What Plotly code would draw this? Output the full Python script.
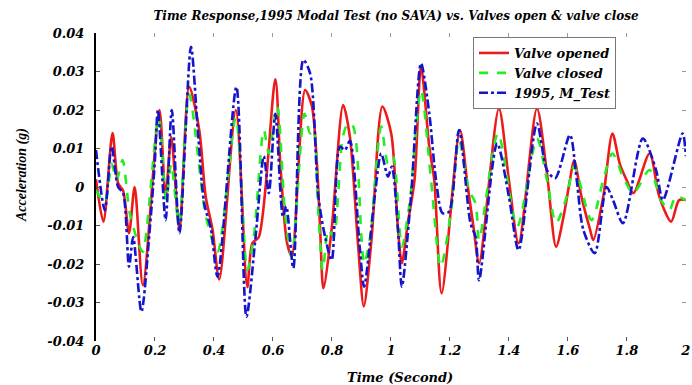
import plotly.graph_objects as go

# ---- data ----
t_open = [0.000, 0.025, 0.056, 0.075, 0.092, 0.112, 0.131, 0.159, 0.215, 0.236, 0.255, 0.283, 0.316, 0.350, 0.372, 0.395,
          0.418, 0.474, 0.513, 0.530, 0.552, 0.608, 0.625, 0.648, 0.664, 0.709, 0.732, 0.749, 0.760, 0.771, 0.799, 0.838,
          0.861, 0.889, 0.908, 0.934, 0.971, 1.001, 1.024, 1.037, 1.057, 1.080, 1.102, 1.130, 1.147, 1.172, 1.234, 1.259,
          1.281, 1.299, 1.366, 1.400, 1.433, 1.495, 1.529, 1.560, 1.585, 1.607, 1.621, 1.646, 1.675, 1.686, 1.720, 1.751,
          1.776, 1.799, 1.822, 1.877, 1.910, 1.950, 1.977, 2.000]
v_open = [0.002, -0.009, 0.014, 0.001, -0.001, -0.012, 0.000, -0.0255, 0.020, -0.0025, 0.013, -0.011, 0.026, 0.0148, -0.0025, -0.011,
          -0.024, 0.020, -0.026, -0.0146, -0.013, 0.028, 0.006, -0.0146, -0.018, 0.0252, 0.021, 0.0062, -0.011, -0.0263, -0.011, 0.0213,
          0.013, -0.0155, -0.031, -0.0138, 0.0209, 0.0139, -0.011, -0.0198, -0.0095, 0.0018, 0.0313, 0.0105, 0.0018, -0.0276, 0.0148, 0.001,
          -0.011, -0.0198, 0.0204, 0.0018, -0.0146, 0.0204, 0.0036, -0.0155, -0.0078, 0.0018, 0.007, -0.0025, -0.011, -0.0138, -0.0025, 0.0139,
          0.006, 0.0018, -0.0016, 0.0087, -0.0025, -0.009, -0.0034, -0.0034]

t_closed = [0.000, 0.030, 0.053, 0.070, 0.090, 0.115, 0.148, 0.159, 0.212, 0.238, 0.255, 0.281, 0.316, 0.373, 0.412, 0.474,
            0.513, 0.535, 0.569, 0.586, 0.614, 0.642, 0.664, 0.707, 0.726, 0.737, 0.754, 0.769, 0.788, 0.805, 0.837, 0.855,
            0.872, 0.900, 0.909, 0.928, 0.967, 0.990, 1.007, 1.037, 1.063, 1.102, 1.136, 1.169, 1.203, 1.231, 1.265, 1.287,
            1.299, 1.363, 1.428, 1.495, 1.529, 1.560, 1.596, 1.621, 1.680, 1.720, 1.751, 1.787, 1.822, 1.877, 1.916, 1.944,
            1.966, 2.000]
v_closed = [-0.0008, -0.004, 0.006, 0.0018, 0.007, -0.007, -0.0155, -0.0168, 0.018, -0.0034, 0.006, -0.0094, 0.024, -0.0077, -0.0168, 0.018,
            -0.0216, -0.013, 0.0148, 0.0087, 0.021, -0.0077, -0.018, 0.019, 0.0139, 0.0148, -0.0068, -0.0216, -0.011, -0.0129, 0.0131, 0.0165,
            0.0157, -0.0129, -0.0199, -0.0138, 0.0157, 0.0061, 0.0079, -0.0155, -0.0043, 0.0252, 0.0018, -0.0207, -0.0068, 0.0122, -0.0008, -0.0043,
            -0.0138, 0.0139, -0.0103, 0.0126, 0.0018, -0.0094, -0.0025, 0.0053, -0.0086, 0.0018, 0.0087, 0.0027, -0.0016, 0.0044, -0.0034, -0.006,
            -0.0025, -0.0034]

t_test = [0.000, 0.030, 0.053, 0.075, 0.092, 0.112, 0.126, 0.154, 0.182, 0.199, 0.210, 0.236, 0.257, 0.283, 0.322, 0.345,
          0.367, 0.390, 0.412, 0.476, 0.510, 0.541, 0.569, 0.586, 0.608, 0.634, 0.645, 0.669, 0.703, 0.726, 0.754, 0.777,
          0.799, 0.827, 0.844, 0.861, 0.894, 0.909, 0.945, 0.967, 0.990, 1.003, 1.024, 1.037, 1.068, 1.102, 1.130, 1.153,
          1.175, 1.197, 1.231, 1.270, 1.287, 1.299, 1.360, 1.400, 1.433, 1.495, 1.529, 1.557, 1.607, 1.630, 1.652, 1.691,
          1.731, 1.753, 1.787, 1.854, 1.899, 1.922, 1.989, 2.000]
v_test = [0.0096, -0.006, 0.0105, 0.000, -0.0016, -0.0207, -0.013, -0.0324, -0.0112, 0.006, 0.020, -0.0086, 0.020, -0.012, 0.0364, 0.015,
          -0.0043, -0.011, -0.0233, 0.026, -0.0337, -0.013, 0.008, -0.0016, 0.019, -0.0077, -0.005, -0.0211, 0.033, 0.0295, -0.0025, -0.013,
          -0.019, 0.0105, 0.0096, 0.012, -0.0155, -0.0259, -0.0025, 0.0087, 0.0027, 0.0053, -0.011, -0.0259, -0.0025, 0.0321, 0.0191, 0.0018,
          -0.0068, -0.0064, 0.0148, -0.0095, -0.0129, -0.0242, 0.0113, -0.0025, -0.0164, 0.0165, 0.0044, 0.0023, 0.0135, 0.0018, -0.011, -0.0172,
          0.000, -0.0034, -0.0094, 0.0126, 0.0044, -0.0034, 0.0139, 0.008]

x_ticks = [0, 0.2, 0.4, 0.6, 0.8, 1.0, 1.2, 1.4, 1.6, 1.8, 2.0]
x_tick_text = ["0", "0.2", "0.4", "0.6", "0.8", "1", "1.2", "1.4", "1.6", "1.8", "2"]
y_ticks = [-0.04, -0.03, -0.02, -0.01, 0, 0.01, 0.02, 0.03, 0.04]
y_tick_text = ["-0.04", "-0.03", "-0.02", "-0.01", "0", "0.01", "0.02", "0.03", "0.04"]

W, H = 692, 385
ML, MR, MT, MB = 96, 6, 33, 44
PW, PH = W - ML - MR, H - MT - MB

SERIF = "DejaVu Serif"
bi = dict(family=SERIF, weight="bold", style="italic", color="black")

fig = go.Figure()
fig.add_trace(go.Scatter(x=t_open, y=v_open, mode="lines", name="Valve opened",
                         line=dict(color="#ee1a1a", width=2.6, shape="spline", smoothing=0.8)))
fig.add_trace(go.Scatter(x=t_closed, y=v_closed, mode="lines", name="Valve closed",
                         line=dict(color="#22ee22", width=2.6, dash="dash", shape="spline", smoothing=0.8)))
fig.add_trace(go.Scatter(x=t_test, y=v_test, mode="lines", name="1995, M_Test",
                         line=dict(color="#1414cc", width=2.6, dash="dashdot", shape="spline", smoothing=0.8)))

# invisible trace on mirrored axes for the top/right tick marks
fig.add_trace(go.Scatter(x=[0, 2], y=[0, 0], xaxis="x2", yaxis="y2", mode="lines",
                         line=dict(width=0), showlegend=False, hoverinfo="skip"))

XR = [0, 2.0005]

fig.update_layout(
    width=W, height=H,
    margin=dict(l=ML, r=MR, t=MT, b=MB, autoexpand=False),
    paper_bgcolor="white", plot_bgcolor="white",
    showlegend=True,
    title=dict(text="Time Response,1995 Modal Test (no SAVA) vs. Valves open & valve close",
               x=(ML + PW / 2 + 5) / W, xanchor="center", y=1 - 16 / H, yanchor="middle",
               font=dict(size=12, **bi)),
    xaxis=dict(range=XR, tickvals=x_ticks, ticktext=x_tick_text, ticks="inside", ticklen=4,
               tickcolor="#555", showgrid=False, zeroline=False, showline=False, automargin=False,
               ticklabeloverflow="allow", tickfont=dict(size=13, **bi)),
    yaxis=dict(range=[-0.04, 0.04], tickvals=y_ticks, ticktext=y_tick_text, ticks="inside", ticklen=4,
               tickcolor="#555", showgrid=False, zeroline=False, showline=True, linecolor="black",
               linewidth=2, ticklabelstandoff=7, automargin=False, tickfont=dict(size=13, **bi)),
    xaxis2=dict(range=XR, tickvals=x_ticks, overlaying="x", side="top", ticks="inside", ticklen=4,
                tickcolor="#999", showticklabels=False, showgrid=False, zeroline=False, showline=False),
    yaxis2=dict(range=[-0.04, 0.04], tickvals=y_ticks, overlaying="y", side="right", ticks="inside", ticklen=4,
                tickcolor="#999", showticklabels=False, showgrid=False, zeroline=False, showline=False),
    legend=dict(x=(473 - ML) / PW, xanchor="left", y=(MT + PH - 37) / PH, yanchor="top",
                bgcolor="white", bordercolor="#777", borderwidth=1,
                font=dict(size=13, **bi), tracegroupgap=0, itemwidth=30),
    annotations=[
        dict(text="Acceleration (g)", xref="paper", yref="paper", x=(22 - ML) / PW, y=(MT + PH - 175) / PH,
             textangle=-90, showarrow=False, xanchor="center", yanchor="middle",
             font=dict(size=14, family="Liberation Serif", weight="bold", style="italic", color="black")),
        dict(text="Time (Second)", xref="paper", yref="paper", x=(400 - ML) / PW, y=(MT + PH - 377) / PH,
             showarrow=False, xanchor="center", yanchor="middle", font=dict(size=13, **bi)),
    ],
)

fig.write_html("out.html")
